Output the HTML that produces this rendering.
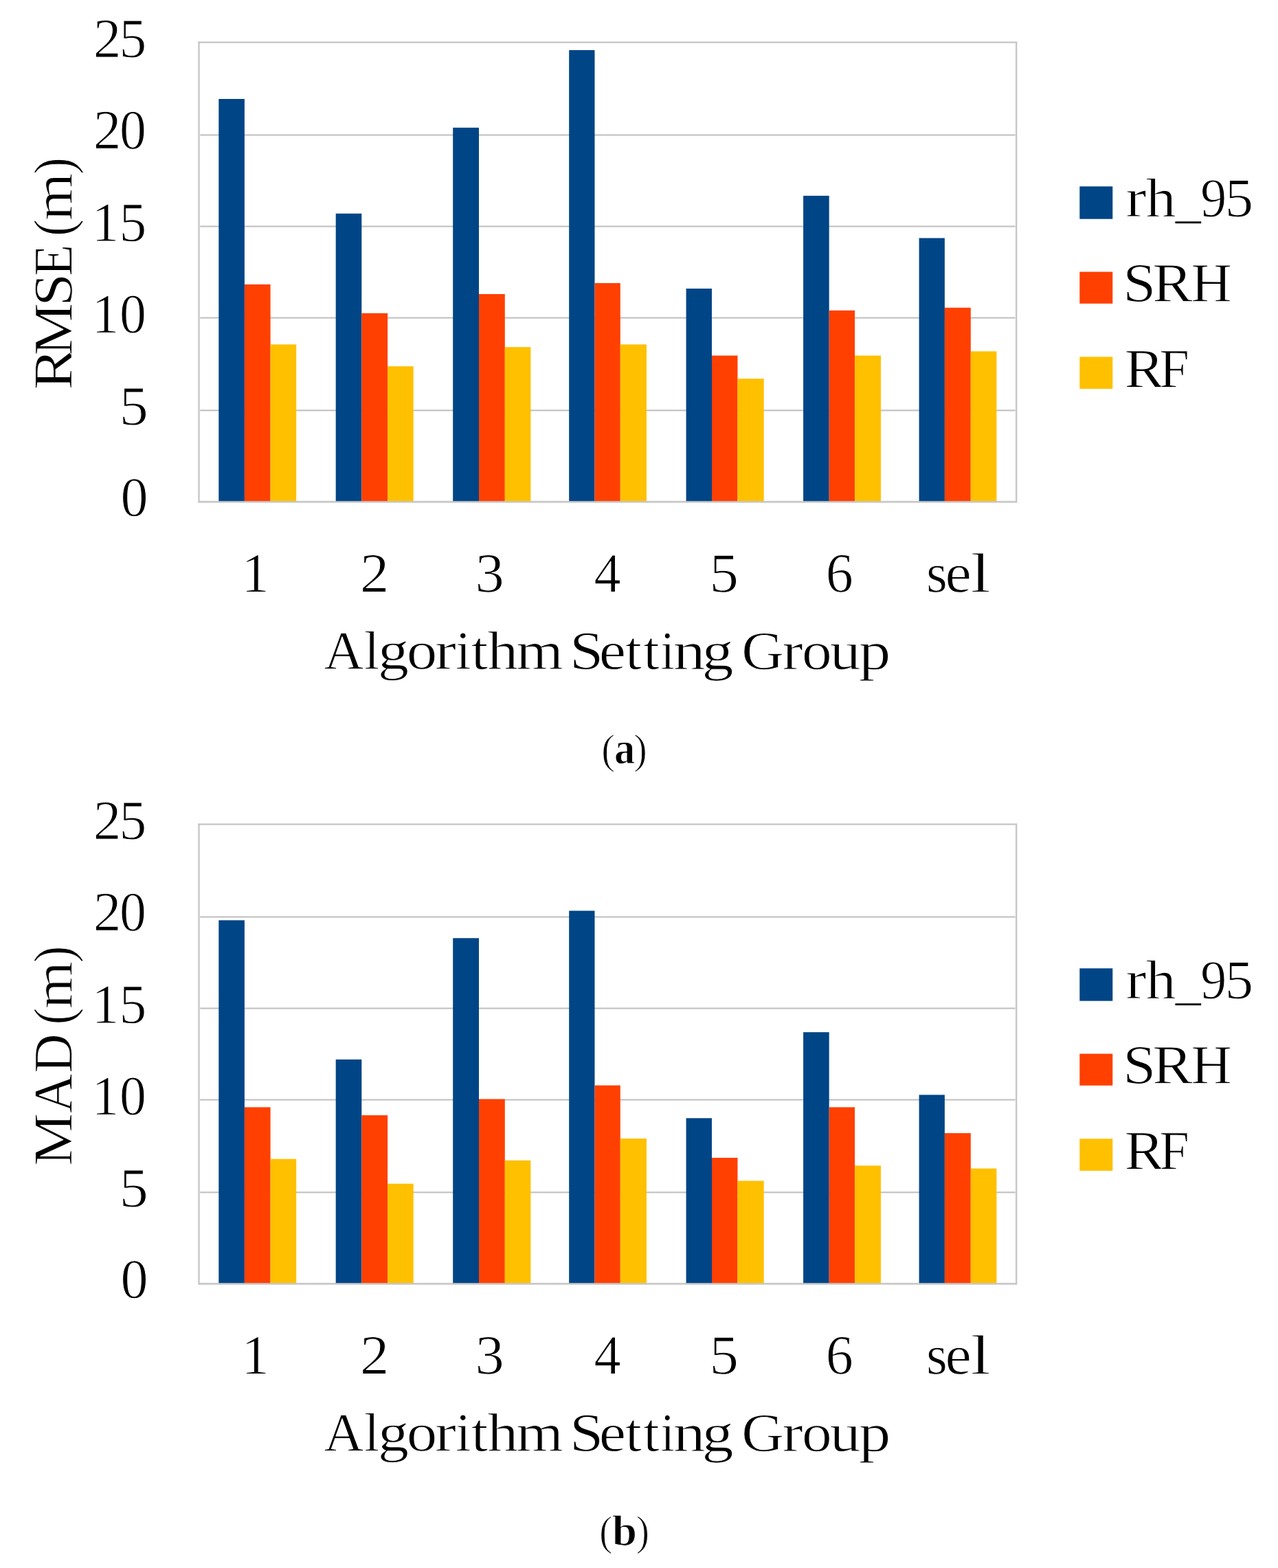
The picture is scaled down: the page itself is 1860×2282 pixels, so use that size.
<!DOCTYPE html>
<html lang="en"><head><meta charset="utf-8"><title>RMSE and MAD by Algorithm Setting Group</title>
<style>
html,body{margin:0;padding:0;background:#fff;}
body{width:1860px;height:2282px;overflow:hidden;}
svg{display:block;font-family:"Liberation Serif","DejaVu Serif",serif;}
text{fill:#000;stroke:#fff;stroke-width:1px;stroke-linejoin:round;white-space:pre;}
</style></head><body>
<svg width="1860" height="2282" viewBox="0 0 1860 2282">
<rect width="1860" height="2282" fill="#ffffff"/>
<g transform="translate(0,0)">
<rect x="289.8" y="194.80" width="1189.50" height="3.4" fill="#eeeeee"/>
<rect x="289.8" y="195.70" width="1189.50" height="1.6" fill="#bebebe"/>
<rect x="289.8" y="327.80" width="1189.50" height="3.4" fill="#eeeeee"/>
<rect x="289.8" y="328.70" width="1189.50" height="1.6" fill="#bebebe"/>
<rect x="289.8" y="460.90" width="1189.50" height="3.4" fill="#eeeeee"/>
<rect x="289.8" y="461.80" width="1189.50" height="1.6" fill="#bebebe"/>
<rect x="289.8" y="595.60" width="1189.50" height="3.4" fill="#eeeeee"/>
<rect x="289.8" y="596.50" width="1189.50" height="1.6" fill="#bebebe"/>
<rect x="288.70" y="728.50" width="1191.30" height="3.8" fill="#eeeeee"/>
<rect x="318.30" y="144.00" width="37.60" height="585.60" fill="#004586"/>
<rect x="355.90" y="413.90" width="37.70" height="315.70" fill="#ff4000"/>
<rect x="393.60" y="501.30" width="37.60" height="228.30" fill="#ffc000"/>
<rect x="488.70" y="310.80" width="37.60" height="418.80" fill="#004586"/>
<rect x="526.30" y="455.80" width="37.80" height="273.80" fill="#ff4000"/>
<rect x="564.10" y="533.10" width="37.60" height="196.50" fill="#ffc000"/>
<rect x="659.20" y="185.80" width="37.80" height="543.80" fill="#004586"/>
<rect x="697.00" y="428.00" width="37.80" height="301.60" fill="#ff4000"/>
<rect x="734.80" y="505.10" width="37.60" height="224.50" fill="#ffc000"/>
<rect x="828.20" y="72.90" width="37.30" height="656.70" fill="#004586"/>
<rect x="865.50" y="412.00" width="37.30" height="317.60" fill="#ff4000"/>
<rect x="902.80" y="501.30" width="38.20" height="228.30" fill="#ffc000"/>
<rect x="998.60" y="420.00" width="37.40" height="309.60" fill="#004586"/>
<rect x="1036.00" y="517.50" width="37.50" height="212.10" fill="#ff4000"/>
<rect x="1073.50" y="551.10" width="38.20" height="178.50" fill="#ffc000"/>
<rect x="1169.10" y="284.90" width="37.60" height="444.70" fill="#004586"/>
<rect x="1206.70" y="451.80" width="37.40" height="277.80" fill="#ff4000"/>
<rect x="1244.10" y="517.50" width="37.90" height="212.10" fill="#ffc000"/>
<rect x="1337.60" y="346.50" width="37.30" height="383.10" fill="#004586"/>
<rect x="1374.90" y="447.80" width="37.90" height="281.80" fill="#ff4000"/>
<rect x="1412.80" y="511.30" width="37.60" height="218.30" fill="#ffc000"/>
<rect x="287.80" y="59.90" width="1193.10" height="3.4" fill="#eeeeee"/>
<rect x="287.80" y="59.90" width="3.4" height="672.20" fill="#eeeeee"/>
<rect x="1477.50" y="59.90" width="3.4" height="672.20" fill="#eeeeee"/>
<rect x="288.70" y="60.80" width="1191.30" height="1.6" fill="#bebebe"/>
<rect x="288.70" y="60.80" width="1.6" height="670.40" fill="#bebebe"/>
<rect x="1478.40" y="60.80" width="1.6" height="670.40" fill="#bebebe"/>
<rect x="288.70" y="729.35" width="1191.30" height="2.1" fill="#c2c2c2"/>
<text transform="translate(174.65,83.30) rotate(0.05) scale(1,1.0313)" font-size="79"><tspan x="-38.80" textLength="40.62" lengthAdjust="spacingAndGlyphs">2</tspan><tspan x="-1.22" textLength="39.75" lengthAdjust="spacingAndGlyphs">5</tspan></text>
<text transform="translate(174.65,216.40) rotate(0.05) scale(1,1.0313)" font-size="79"><tspan x="-38.80" textLength="40.62" lengthAdjust="spacingAndGlyphs">2</tspan><tspan x="-0.56" textLength="38.82" lengthAdjust="spacingAndGlyphs">0</tspan></text>
<text transform="translate(175.20,351.00) rotate(0.05) scale(1,1.0313)" font-size="79"><tspan x="-41.78" textLength="39.86" lengthAdjust="spacingAndGlyphs">1</tspan><tspan x="-1.77" textLength="39.75" lengthAdjust="spacingAndGlyphs">5</tspan></text>
<text transform="translate(175.20,484.30) rotate(0.05) scale(1,1.0313)" font-size="79"><tspan x="-41.78" textLength="39.86" lengthAdjust="spacingAndGlyphs">1</tspan><tspan x="-1.11" textLength="38.82" lengthAdjust="spacingAndGlyphs">0</tspan></text>
<text transform="translate(195.40,618.20) rotate(0.05) scale(1,1.0313)" font-size="79"><tspan x="-21.73" textLength="41.99" lengthAdjust="spacingAndGlyphs">5</tspan></text>
<text transform="translate(195.50,750.90) rotate(0.05) scale(1,1.0313)" font-size="79"><tspan x="-20.00" textLength="40.00" lengthAdjust="spacingAndGlyphs">0</tspan></text>
<text transform="translate(372.80,861.50) rotate(0.05) scale(1,1.0313)" font-size="79"><tspan x="-21.25" textLength="40.28" lengthAdjust="spacingAndGlyphs">1</tspan></text>
<text transform="translate(544.50,861.50) rotate(0.05) scale(1,1.0313)" font-size="79"><tspan x="-20.59" textLength="42.24" lengthAdjust="spacingAndGlyphs">2</tspan></text>
<text transform="translate(712.85,861.50) rotate(0.05) scale(1,1.0313)" font-size="79"><tspan x="-21.47" textLength="42.30" lengthAdjust="spacingAndGlyphs">3</tspan></text>
<text transform="translate(884.20,861.50) rotate(0.05) scale(1,1.0313)" font-size="79"><tspan x="-19.77" textLength="39.14" lengthAdjust="spacingAndGlyphs">4</tspan></text>
<text transform="translate(1054.60,861.50) rotate(0.05) scale(1,1.0313)" font-size="79"><tspan x="-21.99" textLength="42.48" lengthAdjust="spacingAndGlyphs">5</tspan></text>
<text transform="translate(1222.30,861.50) rotate(0.05) scale(1,1.0313)" font-size="79"><tspan x="-20.50" textLength="40.00" lengthAdjust="spacingAndGlyphs">6</tspan></text>
<text transform="translate(1395.40,861.50) rotate(0.05) scale(1,1.0313)" font-size="79"><tspan x="-47.37" textLength="30.88" lengthAdjust="spacingAndGlyphs">s</tspan><tspan x="-19.86" textLength="38.39" lengthAdjust="spacingAndGlyphs">e</tspan><tspan x="16.99" textLength="29.36" lengthAdjust="spacingAndGlyphs">l</tspan></text>
<text transform="translate(882.45,973.80) rotate(0.05) scale(1,1.0043)" font-size="79"><tspan x="-410.85" textLength="57.88" lengthAdjust="spacingAndGlyphs">A</tspan><tspan x="-352.35" textLength="22.23" lengthAdjust="spacingAndGlyphs">l</tspan><tspan x="-332.48" textLength="45.03" lengthAdjust="spacingAndGlyphs">g</tspan><tspan x="-290.79" textLength="44.47" lengthAdjust="spacingAndGlyphs">o</tspan><tspan x="-249.41" textLength="30.90" lengthAdjust="spacingAndGlyphs">r</tspan><tspan x="-219.58" textLength="22.57" lengthAdjust="spacingAndGlyphs">i</tspan><tspan x="-196.63" textLength="24.56" lengthAdjust="spacingAndGlyphs">t</tspan><tspan x="-173.15" textLength="44.92" lengthAdjust="spacingAndGlyphs">h</tspan><tspan x="-131.11" textLength="68.51" lengthAdjust="spacingAndGlyphs">m</tspan><tspan x="-62.60"> </tspan><tspan x="-53.43" textLength="49.31" lengthAdjust="spacingAndGlyphs">S</tspan><tspan x="-10.69" textLength="39.23" lengthAdjust="spacingAndGlyphs">e</tspan><tspan x="27.49" textLength="23.92" lengthAdjust="spacingAndGlyphs">t</tspan><tspan x="53.80" textLength="23.50" lengthAdjust="spacingAndGlyphs">t</tspan><tspan x="78.84" textLength="20.95" lengthAdjust="spacingAndGlyphs">i</tspan><tspan x="97.24" textLength="46.92" lengthAdjust="spacingAndGlyphs">n</tspan><tspan x="139.14" textLength="46.06" lengthAdjust="spacingAndGlyphs">g</tspan><tspan x="185.19"> </tspan><tspan x="196.83" textLength="61.66" lengthAdjust="spacingAndGlyphs">G</tspan><tspan x="256.14" textLength="30.13" lengthAdjust="spacingAndGlyphs">r</tspan><tspan x="284.48" textLength="43.65" lengthAdjust="spacingAndGlyphs">o</tspan><tspan x="325.23" textLength="44.89" lengthAdjust="spacingAndGlyphs">u</tspan><tspan x="367.46" textLength="46.29" lengthAdjust="spacingAndGlyphs">p</tspan></text>
<text transform="translate(104.50,398.55) rotate(-89.95) scale(1,1.0193)" font-size="79"><tspan x="-168.97" textLength="61.21" lengthAdjust="spacingAndGlyphs">R</tspan><tspan x="-119.03" textLength="76.90" lengthAdjust="spacingAndGlyphs">M</tspan><tspan x="-47.18" textLength="48.01" lengthAdjust="spacingAndGlyphs">S</tspan><tspan x="-3.53" textLength="46.23" lengthAdjust="spacingAndGlyphs">E</tspan><tspan x="42.70"> </tspan><tspan x="54.48" textLength="24.83" lengthAdjust="spacingAndGlyphs">(</tspan><tspan x="77.47" textLength="69.25" lengthAdjust="spacingAndGlyphs">m</tspan><tspan x="144.83" textLength="24.83" lengthAdjust="spacingAndGlyphs">)</tspan></text>
<rect x="1571.3" y="271.3" width="48" height="47.40" fill="#004586"/>
<rect x="1571.3" y="395.6" width="48" height="46.20" fill="#ff4000"/>
<rect x="1571.3" y="519.3" width="48" height="46.60" fill="#ffc000"/>
<text transform="translate(1730.35,315.20) rotate(0.05) scale(1,1.0193)" font-size="79"><tspan x="-92.17" textLength="30.24" lengthAdjust="spacingAndGlyphs">r</tspan><tspan x="-62.73" textLength="43.77" lengthAdjust="spacingAndGlyphs">h</tspan><tspan x="-19.78" textLength="37.67" lengthAdjust="spacingAndGlyphs">_</tspan><tspan x="16.79" textLength="37.89" lengthAdjust="spacingAndGlyphs">9</tspan><tspan x="52.29" textLength="41.37" lengthAdjust="spacingAndGlyphs">5</tspan></text>
<text transform="translate(1715.15,438.70) rotate(0.05) scale(1,1.0193)" font-size="79"><tspan x="-80.98" textLength="48.01" lengthAdjust="spacingAndGlyphs">S</tspan><tspan x="-37.96" textLength="58.49" lengthAdjust="spacingAndGlyphs">R</tspan><tspan x="18.40" textLength="59.19" lengthAdjust="spacingAndGlyphs">H</tspan></text>
<text transform="translate(1683.55,563.50) rotate(0.05) scale(1,1.0193)" font-size="79"><tspan x="-46.94" textLength="58.07" lengthAdjust="spacingAndGlyphs">R</tspan><tspan x="3.79" textLength="43.59" lengthAdjust="spacingAndGlyphs">F</tspan></text>
<text transform="translate(908.55,1111.10) rotate(0.05) scale(1,0.9896)" font-size="62"><tspan x="-33.28" textLength="19.79" lengthAdjust="spacingAndGlyphs">(</tspan><tspan x="-14.52" textLength="30.28" lengthAdjust="spacingAndGlyphs" font-weight="bold" font-size="66">a</tspan><tspan x="13.74" textLength="19.53" lengthAdjust="spacingAndGlyphs">)</tspan></text>
</g>
<g transform="translate(0,1138.0)">
<rect x="289.8" y="194.80" width="1189.50" height="3.4" fill="#eeeeee"/>
<rect x="289.8" y="195.70" width="1189.50" height="1.6" fill="#bebebe"/>
<rect x="289.8" y="327.80" width="1189.50" height="3.4" fill="#eeeeee"/>
<rect x="289.8" y="328.70" width="1189.50" height="1.6" fill="#bebebe"/>
<rect x="289.8" y="460.90" width="1189.50" height="3.4" fill="#eeeeee"/>
<rect x="289.8" y="461.80" width="1189.50" height="1.6" fill="#bebebe"/>
<rect x="289.8" y="595.60" width="1189.50" height="3.4" fill="#eeeeee"/>
<rect x="289.8" y="596.50" width="1189.50" height="1.6" fill="#bebebe"/>
<rect x="288.70" y="728.50" width="1191.30" height="3.8" fill="#eeeeee"/>
<rect x="318.30" y="201.30" width="37.60" height="528.30" fill="#004586"/>
<rect x="355.90" y="473.40" width="37.70" height="256.20" fill="#ff4000"/>
<rect x="393.60" y="548.70" width="37.60" height="180.90" fill="#ffc000"/>
<rect x="488.70" y="403.90" width="37.60" height="325.70" fill="#004586"/>
<rect x="526.30" y="485.10" width="37.80" height="244.50" fill="#ff4000"/>
<rect x="564.10" y="584.70" width="37.60" height="144.90" fill="#ffc000"/>
<rect x="659.20" y="227.30" width="37.80" height="502.30" fill="#004586"/>
<rect x="697.00" y="461.60" width="37.80" height="268.00" fill="#ff4000"/>
<rect x="734.80" y="550.80" width="37.60" height="178.80" fill="#ffc000"/>
<rect x="828.20" y="187.50" width="37.30" height="542.10" fill="#004586"/>
<rect x="865.50" y="441.60" width="37.30" height="288.00" fill="#ff4000"/>
<rect x="902.80" y="519.00" width="38.20" height="210.60" fill="#ffc000"/>
<rect x="998.60" y="489.30" width="37.40" height="240.30" fill="#004586"/>
<rect x="1036.00" y="547.00" width="37.50" height="182.60" fill="#ff4000"/>
<rect x="1073.50" y="580.50" width="38.20" height="149.10" fill="#ffc000"/>
<rect x="1169.10" y="364.20" width="37.60" height="365.40" fill="#004586"/>
<rect x="1206.70" y="473.40" width="37.40" height="256.20" fill="#ff4000"/>
<rect x="1244.10" y="558.40" width="37.90" height="171.20" fill="#ffc000"/>
<rect x="1337.60" y="455.40" width="37.30" height="274.20" fill="#004586"/>
<rect x="1374.90" y="511.10" width="37.90" height="218.50" fill="#ff4000"/>
<rect x="1412.80" y="562.60" width="37.60" height="167.00" fill="#ffc000"/>
<rect x="287.80" y="59.90" width="1193.10" height="3.4" fill="#eeeeee"/>
<rect x="287.80" y="59.90" width="3.4" height="672.20" fill="#eeeeee"/>
<rect x="1477.50" y="59.90" width="3.4" height="672.20" fill="#eeeeee"/>
<rect x="288.70" y="60.80" width="1191.30" height="1.6" fill="#bebebe"/>
<rect x="288.70" y="60.80" width="1.6" height="670.40" fill="#bebebe"/>
<rect x="1478.40" y="60.80" width="1.6" height="670.40" fill="#bebebe"/>
<rect x="288.70" y="729.35" width="1191.30" height="2.1" fill="#c2c2c2"/>
<text transform="translate(174.65,83.30) rotate(0.05) scale(1,1.0313)" font-size="79"><tspan x="-38.80" textLength="40.62" lengthAdjust="spacingAndGlyphs">2</tspan><tspan x="-1.22" textLength="39.75" lengthAdjust="spacingAndGlyphs">5</tspan></text>
<text transform="translate(174.65,216.40) rotate(0.05) scale(1,1.0313)" font-size="79"><tspan x="-38.80" textLength="40.62" lengthAdjust="spacingAndGlyphs">2</tspan><tspan x="-0.56" textLength="38.82" lengthAdjust="spacingAndGlyphs">0</tspan></text>
<text transform="translate(175.20,351.00) rotate(0.05) scale(1,1.0313)" font-size="79"><tspan x="-41.78" textLength="39.86" lengthAdjust="spacingAndGlyphs">1</tspan><tspan x="-1.77" textLength="39.75" lengthAdjust="spacingAndGlyphs">5</tspan></text>
<text transform="translate(175.20,484.30) rotate(0.05) scale(1,1.0313)" font-size="79"><tspan x="-41.78" textLength="39.86" lengthAdjust="spacingAndGlyphs">1</tspan><tspan x="-1.11" textLength="38.82" lengthAdjust="spacingAndGlyphs">0</tspan></text>
<text transform="translate(195.40,618.20) rotate(0.05) scale(1,1.0313)" font-size="79"><tspan x="-21.73" textLength="41.99" lengthAdjust="spacingAndGlyphs">5</tspan></text>
<text transform="translate(195.50,750.90) rotate(0.05) scale(1,1.0313)" font-size="79"><tspan x="-20.00" textLength="40.00" lengthAdjust="spacingAndGlyphs">0</tspan></text>
<text transform="translate(372.80,861.50) rotate(0.05) scale(1,1.0313)" font-size="79"><tspan x="-21.25" textLength="40.28" lengthAdjust="spacingAndGlyphs">1</tspan></text>
<text transform="translate(544.50,861.50) rotate(0.05) scale(1,1.0313)" font-size="79"><tspan x="-20.59" textLength="42.24" lengthAdjust="spacingAndGlyphs">2</tspan></text>
<text transform="translate(712.85,861.50) rotate(0.05) scale(1,1.0313)" font-size="79"><tspan x="-21.47" textLength="42.30" lengthAdjust="spacingAndGlyphs">3</tspan></text>
<text transform="translate(884.20,861.50) rotate(0.05) scale(1,1.0313)" font-size="79"><tspan x="-19.77" textLength="39.14" lengthAdjust="spacingAndGlyphs">4</tspan></text>
<text transform="translate(1054.60,861.50) rotate(0.05) scale(1,1.0313)" font-size="79"><tspan x="-21.99" textLength="42.48" lengthAdjust="spacingAndGlyphs">5</tspan></text>
<text transform="translate(1222.30,861.50) rotate(0.05) scale(1,1.0313)" font-size="79"><tspan x="-20.50" textLength="40.00" lengthAdjust="spacingAndGlyphs">6</tspan></text>
<text transform="translate(1395.40,861.50) rotate(0.05) scale(1,1.0313)" font-size="79"><tspan x="-47.37" textLength="30.88" lengthAdjust="spacingAndGlyphs">s</tspan><tspan x="-19.86" textLength="38.39" lengthAdjust="spacingAndGlyphs">e</tspan><tspan x="16.99" textLength="29.36" lengthAdjust="spacingAndGlyphs">l</tspan></text>
<text transform="translate(882.45,973.80) rotate(0.05) scale(1,1.0043)" font-size="79"><tspan x="-410.85" textLength="57.88" lengthAdjust="spacingAndGlyphs">A</tspan><tspan x="-352.35" textLength="22.23" lengthAdjust="spacingAndGlyphs">l</tspan><tspan x="-332.48" textLength="45.03" lengthAdjust="spacingAndGlyphs">g</tspan><tspan x="-290.79" textLength="44.47" lengthAdjust="spacingAndGlyphs">o</tspan><tspan x="-249.41" textLength="30.90" lengthAdjust="spacingAndGlyphs">r</tspan><tspan x="-219.58" textLength="22.57" lengthAdjust="spacingAndGlyphs">i</tspan><tspan x="-196.63" textLength="24.56" lengthAdjust="spacingAndGlyphs">t</tspan><tspan x="-173.15" textLength="44.92" lengthAdjust="spacingAndGlyphs">h</tspan><tspan x="-131.11" textLength="68.51" lengthAdjust="spacingAndGlyphs">m</tspan><tspan x="-62.60"> </tspan><tspan x="-53.43" textLength="49.31" lengthAdjust="spacingAndGlyphs">S</tspan><tspan x="-10.69" textLength="39.23" lengthAdjust="spacingAndGlyphs">e</tspan><tspan x="27.49" textLength="23.92" lengthAdjust="spacingAndGlyphs">t</tspan><tspan x="53.80" textLength="23.50" lengthAdjust="spacingAndGlyphs">t</tspan><tspan x="78.84" textLength="20.95" lengthAdjust="spacingAndGlyphs">i</tspan><tspan x="97.24" textLength="46.92" lengthAdjust="spacingAndGlyphs">n</tspan><tspan x="139.14" textLength="46.06" lengthAdjust="spacingAndGlyphs">g</tspan><tspan x="185.19"> </tspan><tspan x="196.83" textLength="61.66" lengthAdjust="spacingAndGlyphs">G</tspan><tspan x="256.14" textLength="30.13" lengthAdjust="spacingAndGlyphs">r</tspan><tspan x="284.48" textLength="43.65" lengthAdjust="spacingAndGlyphs">o</tspan><tspan x="325.23" textLength="44.89" lengthAdjust="spacingAndGlyphs">u</tspan><tspan x="367.46" textLength="46.29" lengthAdjust="spacingAndGlyphs">p</tspan></text>
<text transform="translate(104.50,399.05) rotate(-89.95) scale(1,1.0193)" font-size="79"><tspan x="-159.83" textLength="76.90" lengthAdjust="spacingAndGlyphs">M</tspan><tspan x="-82.94" textLength="57.26" lengthAdjust="spacingAndGlyphs">A</tspan><tspan x="-24.83" textLength="57.33" lengthAdjust="spacingAndGlyphs">D</tspan><tspan x="32.50"> </tspan><tspan x="45.48" textLength="24.83" lengthAdjust="spacingAndGlyphs">(</tspan><tspan x="68.87" textLength="69.25" lengthAdjust="spacingAndGlyphs">m</tspan><tspan x="135.83" textLength="24.83" lengthAdjust="spacingAndGlyphs">)</tspan></text>
<rect x="1571.3" y="271.3" width="48" height="47.40" fill="#004586"/>
<rect x="1571.3" y="395.6" width="48" height="46.20" fill="#ff4000"/>
<rect x="1571.3" y="519.3" width="48" height="46.60" fill="#ffc000"/>
<text transform="translate(1730.35,315.20) rotate(0.05) scale(1,1.0193)" font-size="79"><tspan x="-92.17" textLength="30.24" lengthAdjust="spacingAndGlyphs">r</tspan><tspan x="-62.73" textLength="43.77" lengthAdjust="spacingAndGlyphs">h</tspan><tspan x="-19.78" textLength="37.67" lengthAdjust="spacingAndGlyphs">_</tspan><tspan x="16.79" textLength="37.89" lengthAdjust="spacingAndGlyphs">9</tspan><tspan x="52.29" textLength="41.37" lengthAdjust="spacingAndGlyphs">5</tspan></text>
<text transform="translate(1715.15,438.70) rotate(0.05) scale(1,1.0193)" font-size="79"><tspan x="-80.98" textLength="48.01" lengthAdjust="spacingAndGlyphs">S</tspan><tspan x="-37.96" textLength="58.49" lengthAdjust="spacingAndGlyphs">R</tspan><tspan x="18.40" textLength="59.19" lengthAdjust="spacingAndGlyphs">H</tspan></text>
<text transform="translate(1683.55,563.50) rotate(0.05) scale(1,1.0193)" font-size="79"><tspan x="-46.94" textLength="58.07" lengthAdjust="spacingAndGlyphs">R</tspan><tspan x="3.79" textLength="43.59" lengthAdjust="spacingAndGlyphs">F</tspan></text>
<text transform="translate(908.55,1110.80) rotate(0.05) scale(1,0.9896)" font-size="62"><tspan x="-36.38" textLength="19.01" lengthAdjust="spacingAndGlyphs">(</tspan><tspan x="-17.46" textLength="35.97" lengthAdjust="spacingAndGlyphs" font-weight="bold" font-size="63.5">b</tspan><tspan x="17.39" textLength="19.01" lengthAdjust="spacingAndGlyphs">)</tspan></text>
</g>
</svg>
</body></html>
